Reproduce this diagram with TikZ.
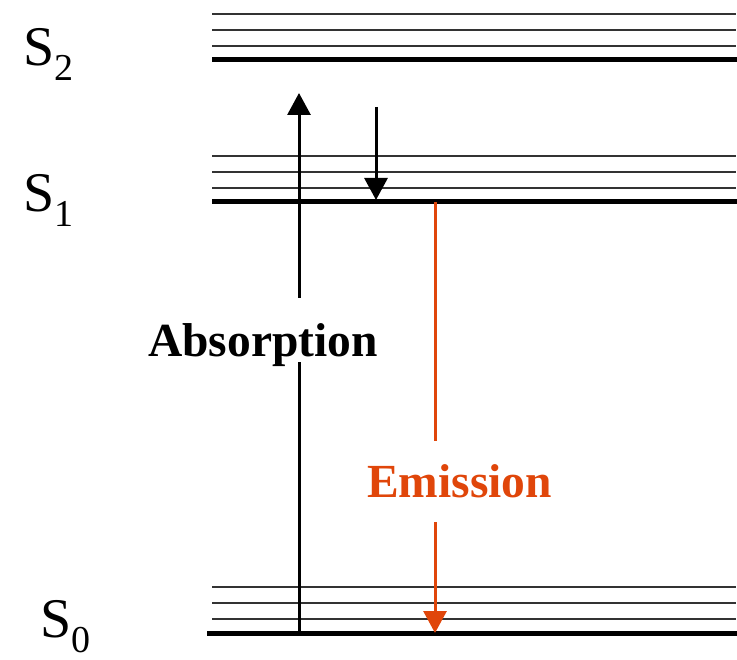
\documentclass[tikz,border=0pt]{standalone}
\usepackage{fontspec}
\setmainfont{Liberation Serif}
\usetikzlibrary{arrows.meta}
\definecolor{emitRed}{HTML}{E0460A}
\definecolor{subGray}{HTML}{333333}
\newcommand{\lvsub}[1]{\raisebox{-15pt}{\fontsize{38}{38}\selectfont #1}}
\begin{document}
\begin{tikzpicture}[x=1pt,y=-1pt,
    level/.style={line width=5pt},
    sublevel/.style={line width=2pt,subGray},
    plain/.style={line width=3pt},
    trans/.style={line width=3pt,-{Triangle[length=22pt,width=23pt]}},
    statelabel/.style={anchor=base west,inner sep=0pt,font=\fontsize{56}{56}\selectfont},
    translabel/.style={anchor=base west,inner sep=0pt,font=\fontsize{47.5}{47.5}\selectfont\bfseries}]

    \useasboundingbox (0,0) rectangle (737,660);

    % energy levels with vibrational sublevels
    \foreach \y/\x in {60/212,202/212,633/207}{
        \draw[level] (\x,\y) -- (737,\y);
        \foreach \d in {14,30,46}
            \draw[sublevel] (212,\y-\d) -- (736,\y-\d);
    }

    % state labels
    \node[statelabel] (sTwo) at (23,66) {S\lvsub{2}};
    \node[statelabel] (sOne) at (23,212) {S\lvsub{1}};
    \node[statelabel] (sZero) at (40,637) {S\lvsub{0}};

    % transition labels
    \node[translabel] (absorb) at (148,357) {Absorption};
    \node[translabel,text=emitRed] (emit) at (367,497) {Emission};

    % arrow end points
    \coordinate (absBot) at (299,633);
    \coordinate (absGapLo) at (299,362);
    \coordinate (absGapHi) at (299,298);
    \coordinate (absTop) at (299,93);
    \coordinate (relTop) at (376,107);
    \coordinate (relBot) at (376,200);
    \coordinate (emTop) at (435,202);
    \coordinate (emGapHi) at (435,441);
    \coordinate (emGapLo) at (435,522);
    \coordinate (emBot) at (435,633);

    % absorption
    \draw[plain] (absBot) -- (absGapLo);
    \draw[trans] (absGapHi) -- (absTop);

    % relaxation
    \draw[trans] (relTop) -- (relBot);

    % emission
    \draw[plain,emitRed] (emTop) -- (emGapHi);
    \draw[trans,emitRed] (emGapLo) -- (emBot);

\end{tikzpicture}
\end{document}
